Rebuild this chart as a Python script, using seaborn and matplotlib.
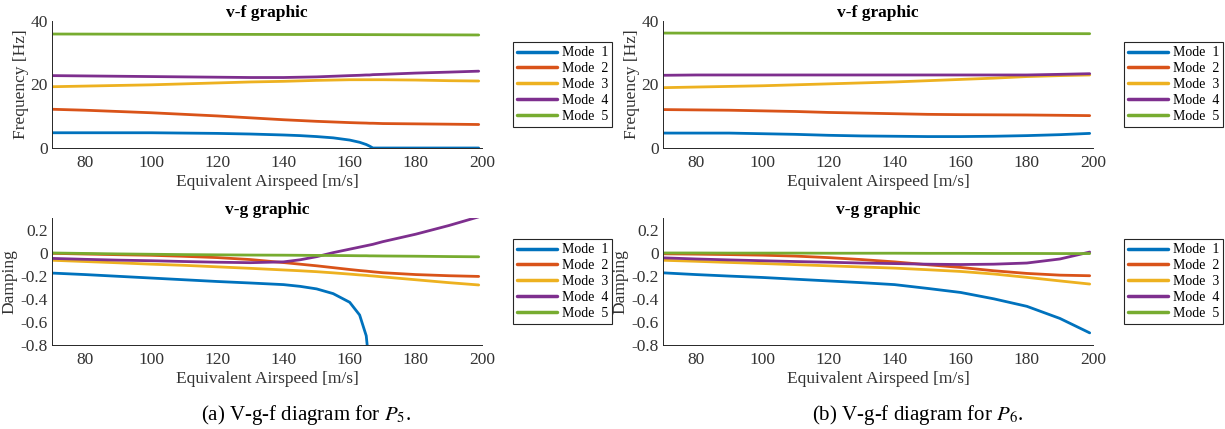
import numpy as np
import pandas as pd
import matplotlib
matplotlib.use("Agg")
import matplotlib.pyplot as plt
from matplotlib.ticker import FuncFormatter
import seaborn as sns

# ---------------- data ----------------
modes = ["Mode  1", "Mode  2", "Mode  3", "Mode  4", "Mode  5"]
colors = ["#0072BD", "#D95319", "#EDB120", "#7E2F8E", "#77AC30"]

# P5 (left sub-figure)
speed_p5 = [70, 80, 90, 100, 110, 120, 130, 140, 145, 150, 155, 160, 163, 165, 166, 167, 170, 180, 190, 199]
freq_p5_m1 = [4.8, 4.8, 4.8, 4.8, 4.7, 4.6, 4.4, 4.1, 3.9, 3.6, 3.2, 2.5, 1.8, 1.1, 0.6, 0.0, 0.0, 0.0, 0.0, 0.0]
freq_p5_m2 = [12.2, 11.9, 11.5, 11.1, 10.6, 10.1, 9.5, 8.9, 8.65, 8.4, 8.2, 8.0, 7.9, 7.85, 7.8, 7.8, 7.7, 7.6, 7.5, 7.4]
freq_p5_m3 = [19.3, 19.5, 19.7, 19.9, 20.2, 20.5, 20.8, 21.0, 21.15, 21.3, 21.4, 21.5, 21.5, 21.5, 21.5, 21.5, 21.5, 21.4, 21.2, 21.1]
freq_p5_m4 = [22.8, 22.7, 22.6, 22.5, 22.4, 22.3, 22.2, 22.2, 22.3, 22.4, 22.6, 22.8, 22.9, 23.0, 23.0, 23.1, 23.2, 23.6, 23.9, 24.2]
freq_p5_m5 = [35.9, 35.88, 35.86, 35.84, 35.82, 35.8, 35.78, 35.76, 35.75, 35.74, 35.73, 35.72, 35.71, 35.7, 35.7, 35.7,
              35.69, 35.66, 35.63, 35.6]

damp_p5_m1 = [-0.177, -0.19, -0.205, -0.22, -0.235, -0.25, -0.263, -0.277, -0.292, -0.314, -0.355, -0.43, -0.54, -0.72,
              -1.0, np.nan, np.nan, np.nan, np.nan, np.nan]
damp_p5_m2 = [-0.006, -0.012, -0.018, -0.023, -0.032, -0.043, -0.06, -0.086, -0.1, -0.114, -0.13, -0.146, -0.155, -0.16,
              -0.163, -0.166, -0.174, -0.19, -0.2, -0.206]
damp_p5_m3 = [-0.066, -0.077, -0.088, -0.10, -0.11, -0.123, -0.136, -0.15, -0.157, -0.165, -0.175, -0.186, -0.193,
              -0.197, -0.2, -0.202, -0.21, -0.235, -0.26, -0.28]
damp_p5_m4 = [-0.05, -0.058, -0.065, -0.07, -0.077, -0.083, -0.087, -0.08, -0.062, -0.035, 0.0, 0.03, 0.048, 0.06,
              0.066, 0.072, 0.095, 0.16, 0.235, 0.31]
damp_p5_m5 = [-0.003, -0.007, -0.011, -0.014, -0.017, -0.019, -0.021, -0.022, -0.023, -0.024, -0.025, -0.026, -0.027,
              -0.027, -0.028, -0.028, -0.029, -0.031, -0.034, -0.036]

# P6 (right sub-figure)
speed_p6 = [70, 80, 90, 100, 110, 120, 130, 140, 150, 160, 170, 180, 190, 199]
freq_p6_m1 = [4.7, 4.7, 4.7, 4.5, 4.3, 4.0, 3.8, 3.7, 3.6, 3.6, 3.7, 3.9, 4.2, 4.6]
freq_p6_m2 = [12.1, 12.0, 11.9, 11.7, 11.5, 11.2, 11.0, 10.8, 10.6, 10.5, 10.45, 10.4, 10.3, 10.2]
freq_p6_m3 = [19.0, 19.2, 19.4, 19.6, 19.9, 20.2, 20.5, 20.8, 21.2, 21.6, 22.0, 22.5, 22.8, 23.0]
freq_p6_m4 = [22.9, 23.0, 23.0, 23.0, 23.0, 23.0, 23.0, 23.0, 23.0, 23.0, 23.0, 23.0, 23.2, 23.4]
freq_p6_m5 = [36.2, 36.18, 36.17, 36.15, 36.14, 36.12, 36.1, 36.09, 36.07, 36.06, 36.05, 36.03, 36.02, 36.0]

damp_p6_m1 = [-0.175, -0.19, -0.203, -0.215, -0.23, -0.245, -0.26, -0.277, -0.31, -0.345, -0.4, -0.465, -0.57, -0.695]
damp_p6_m2 = [-0.01, -0.013, -0.017, -0.022, -0.03, -0.043, -0.06, -0.08, -0.105, -0.128, -0.157, -0.18, -0.195, -0.2]
damp_p6_m3 = [-0.066, -0.075, -0.085, -0.094, -0.104, -0.114, -0.124, -0.134, -0.148, -0.163, -0.185, -0.214, -0.245, -0.272]
damp_p6_m4 = [-0.045, -0.055, -0.063, -0.07, -0.077, -0.083, -0.09, -0.095, -0.1, -0.103, -0.1, -0.09, -0.055, 0.005]
damp_p6_m5 = [-0.003, -0.003, -0.004, -0.004, -0.004, -0.005, -0.005, -0.005, -0.006, -0.006, -0.007, -0.007, -0.008, -0.008]

x_ticks = [80, 100, 120, 140, 160, 180, 200]
freq_ticks = [0, 20, 40]
damp_ticks = [-0.8, -0.6, -0.4, -0.2, 0, 0.2]
captions = [r"(a) V-g-f diagram for $P_5$.", r"(b) V-g-f diagram for $P_6$."]


def long_frame(speed, series):
    rows = []
    for name, vals in zip(modes, series):
        for s, v in zip(speed, vals):
            rows.append({"speed": s, "value": v, "mode": name})
    return pd.DataFrame(rows)


# ---------------- style ----------------
sns.set_theme(style="white")
plt.rcParams["font.family"] = ["Liberation Serif", "DejaVu Serif"]
plt.rcParams["mathtext.fontset"] = "stix"
plt.rcParams["axes.unicode_minus"] = False

axc = "#262626"
txt = "#333333"

fig = plt.figure(figsize=(12.25, 4.29), dpi=100)
W, H = 1225, 429


def px_axes(left, top, right, bottom):
    return fig.add_axes([left / W, 1 - bottom / H, (right - left) / W, (bottom - top) / H])


panels = [
    (px_axes(52, 21, 482, 148), speed_p5, [freq_p5_m1, freq_p5_m2, freq_p5_m3, freq_p5_m4, freq_p5_m5],
     (0, 40), freq_ticks, "v-f graphic", "Frequency [Hz]", -0.053),
    (px_axes(52, 218, 482, 345), speed_p5, [damp_p5_m1, damp_p5_m2, damp_p5_m3, damp_p5_m4, damp_p5_m5],
     (-0.8, 0.3), damp_ticks, "v-g graphic", "Damping", -0.08),
    (px_axes(663, 21, 1093, 148), speed_p6, [freq_p6_m1, freq_p6_m2, freq_p6_m3, freq_p6_m4, freq_p6_m5],
     (0, 40), freq_ticks, "v-f graphic", "Frequency [Hz]", -0.053),
    (px_axes(663, 218, 1093, 345), speed_p6, [damp_p6_m1, damp_p6_m2, damp_p6_m3, damp_p6_m4, damp_p6_m5],
     (-0.8, 0.3), damp_ticks, "v-g graphic", "Damping", -0.08),
]

fmt = FuncFormatter(lambda v, p: f"{v:g}")

for ax, speed, series, ylim, yticks, title, ylabel, ylx in panels:
    df = long_frame(speed, series)
    sns.lineplot(data=df, x="speed", y="value", hue="mode", hue_order=modes,
                 palette=colors, estimator=None, linewidth=2, ax=ax)
    ax.set_xlim(70, 200)
    ax.set_ylim(*ylim)
    ax.set_xticks(x_ticks)
    ax.set_yticks(yticks)
    ax.xaxis.set_major_formatter(fmt)
    ax.yaxis.set_major_formatter(fmt)
    for side in ("top", "right"):
        ax.spines[side].set_visible(False)
    for side in ("left", "bottom"):
        ax.spines[side].set_color(axc)
        ax.spines[side].set_linewidth(0.7)
    ax.tick_params(direction="in", length=3.5, width=0.6, color=axc, labelcolor=txt, labelsize=12.5)
    ax.tick_params(axis="x", pad=5)
    ax.tick_params(axis="y", pad=3)
    ax.set_xlabel("Equivalent Airspeed [m/s]", fontsize=12.5, color=txt, labelpad=2)
    ax.set_ylabel(ylabel, fontsize=12.5, color=txt)
    ax.yaxis.set_label_coords(ylx, 0.5)
    ax.set_title(title, fontsize=12.5, fontweight="bold", color="black", pad=3)
    ax.set_facecolor("white")
    ax.grid(False)

    sns.move_legend(ax, "center left", bbox_to_anchor=(1.072, 0.5), title=None, frameon=True,
                    fancybox=False, edgecolor=axc, framealpha=1, fontsize=10, handlelength=2.9,
                    handletextpad=0.3, labelspacing=0.2, borderpad=0.3, borderaxespad=0)
    leg = ax.get_legend()
    leg.get_frame().set_linewidth(0.8)
    for h in leg.legend_handles:
        h.set_linewidth(2.5)
    for t in leg.get_texts():
        t.set_color("black")

fig.text(306 / W, 1 - 420 / H, captions[0], fontsize=15, ha="center", va="baseline", color="black")
fig.text(918 / W, 1 - 420 / H, captions[1], fontsize=15, ha="center", va="baseline", color="black")

fig.savefig("out.png", dpi=100, facecolor="white")
